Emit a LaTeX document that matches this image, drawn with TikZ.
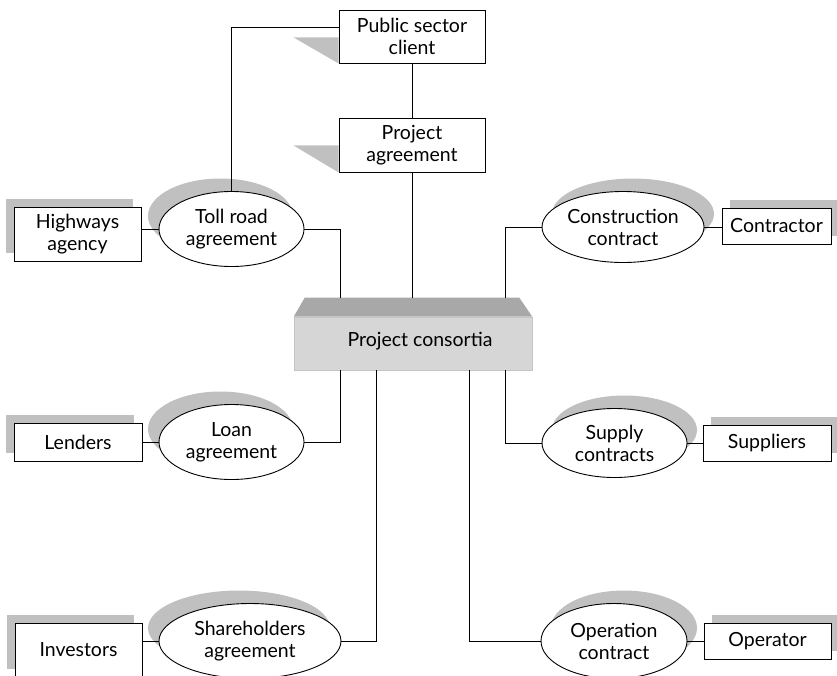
\documentclass[tikz,border=0pt]{standalone}
\usepackage{fontspec}
\setmainfont{Lato}
\usetikzlibrary{shapes.geometric,backgrounds,calc}
\definecolor{shadowgray}{HTML}{C0C0C0}
\definecolor{ctopc}{HTML}{A8A8A8}
\definecolor{cfront}{HTML}{D6D6D6}
\definecolor{cedge}{HTML}{C4C4C4}
\begin{document}
\begin{tikzpicture}[x=1pt,y=-1pt,
  every node/.style={font=\fontsize{19.5}{22}\selectfont, align=center},
  box/.style={draw, fill=white, line width=0.9pt, inner sep=0pt},
  ell/.style={draw, fill=white, ellipse, line width=0.9pt, inner sep=0pt},
  conn/.style={line width=0.8pt},
  shadowfill/.style={fill=shadowgray}]
\useasboundingbox (0,0) rectangle (837,675);

% rectangles
\node[box, minimum width=146pt, minimum height=53pt] (psc) at (412,36.5) {Public sector\\client};
\node[box, minimum width=146pt, minimum height=54pt] (pa) at (412,145) {Project\\agreement};
\node[box, minimum width=127pt, minimum height=54pt] (hw) at (77.5,234) {Highways\\agency};
\node[box, minimum width=109pt, minimum height=36pt] (contr) at (776.5,226) {Contractor};
\node[box, minimum width=128pt, minimum height=38pt] (lend) at (78,442) {Lenders};
\node[box, minimum width=128pt, minimum height=36pt] (supp) at (767,443) {Suppliers};
\node[box, minimum width=127pt, minimum height=54pt] (inv) at (78.5,650) {Investors};
\node[box, minimum width=127pt, minimum height=36pt] (opr) at (767.5,641) {Operator};

% ellipses
\node[ell, minimum width=145pt, minimum height=75pt] (toll) at (231.5,229) {};
\node (tolltxt) at (toll) {Toll road\\agreement};
\node[ell, minimum width=162pt, minimum height=71pt] (cc) at (623,227) {};
\node (cctxt) at (cc) {Construction\\contract};
\node[ell, minimum width=145pt, minimum height=75pt] (loan) at (231.5,442) {};
\node (loantxt) at (loan) {Loan\\agreement};
\node[ell, minimum width=145pt, minimum height=69pt] (sup) at (614.5,443) {};
\node (suptxt) at (sup) {Supply\\contracts};
\node[ell, minimum width=182pt, minimum height=75pt] (share) at (250,641) {};
\node (sharetxt) at (share) {Shareholders\\agreement};
\node[ell, minimum width=146pt, minimum height=75pt] (oper) at (614,641) {};
\node (opertxt) at (oper) {Operation\\contract};

% consortia
\node[fill=cfront, draw=cedge, line width=0.6pt, minimum width=238pt, minimum height=53pt, inner sep=0pt] (cons) at (413,343.5) {};
\fill[ctopc] (cons.north west) -- ++(11,-19) -- ($(cons.north east)+(-13,-19)$) -- (cons.north east) -- cycle;
\node (constxt) at (420,341) {Project consortia};

\coordinate (ct1) at (340,298);
\coordinate (ct2) at (412,298);
\coordinate (ct3) at (505,298);
\coordinate (cb1) at (340,370);
\coordinate (cb2) at (376,370);
\coordinate (cb3) at (469,370);
\coordinate (cb4) at (505,370);

% shadows
\begin{scope}[on background layer]
\fill[shadowfill] ($(psc.south west)+(0,-26)$) -- ($(psc.south west)+(-45,-26)$) -- (psc.south west) -- cycle;
\fill[shadowfill] ($(pa.south west)+(0,-27)$) -- ($(pa.south west)+(-45,-27)$) -- (pa.south west) -- cycle;
\fill[shadowfill] ($(hw.south west)+(-8,-8)$) rectangle ($(hw.north east)+(-8,-8)$);
\fill[shadowfill] ($(lend.south west)+(-8,-8)$) rectangle ($(lend.north east)+(-8,-8)$);
\fill[shadowfill] ($(inv.south west)+(-8,-8)$) rectangle ($(inv.north east)+(-8,-8)$);
\fill[shadowfill] ($(contr.south west)+(8,-8)$) rectangle ($(contr.north east)+(8,-8)$);
\fill[shadowfill] ($(supp.south west)+(8,-8)$) rectangle ($(supp.north east)+(8,-8)$);
\fill[shadowfill] ($(opr.south west)+(8,-8)$) rectangle ($(opr.north east)+(8,-8)$);
\fill[shadowfill] ($(toll)+(-11,-13)$) ellipse [x radius=72.5pt, y radius=37.5pt];
\fill[shadowfill] ($(loan)+(-11,-13)$) ellipse [x radius=72.5pt, y radius=37.5pt];
\fill[shadowfill] ($(share)+(-11,-13)$) ellipse [x radius=91pt, y radius=37.5pt];
\fill[shadowfill] ($(cc)+(10,-13)$) ellipse [x radius=81pt, y radius=35.5pt];
\fill[shadowfill] ($(sup)+(10,-13)$) ellipse [x radius=72.5pt, y radius=34.5pt];
\fill[shadowfill] ($(oper)+(10,-13)$) ellipse [x radius=73pt, y radius=37.5pt];
\end{scope}

% connectors
\draw[conn] ($(psc.north west)+(0,18)$) -| (toll.north);
\draw[conn] (psc.south) -- (pa.north);
\draw[conn] (pa.south) -- (ct2);
\draw[conn] (toll.east) -| (ct1);
\draw[conn] (toll.west) -- (toll.west -| hw.east);
\draw[conn] (cc.west) -| (ct3);
\draw[conn] (cc.east) -- (cc.east -| contr.west);
\draw[conn] (cb1) |- (loan.east);
\draw[conn] (loan.west) -- (lend.east);
\draw[conn] (cb2) |- (share.east);
\draw[conn] (share.west) -- (share.west -| inv.east);
\draw[conn] (cb3) |- (oper.west);
\draw[conn] (oper.east) -- (oper.east -| opr.west);
\draw[conn] (cb4) |- (sup.west);
\draw[conn] (sup.east) -- (sup.east -| supp.west);
\end{tikzpicture}
\end{document}
